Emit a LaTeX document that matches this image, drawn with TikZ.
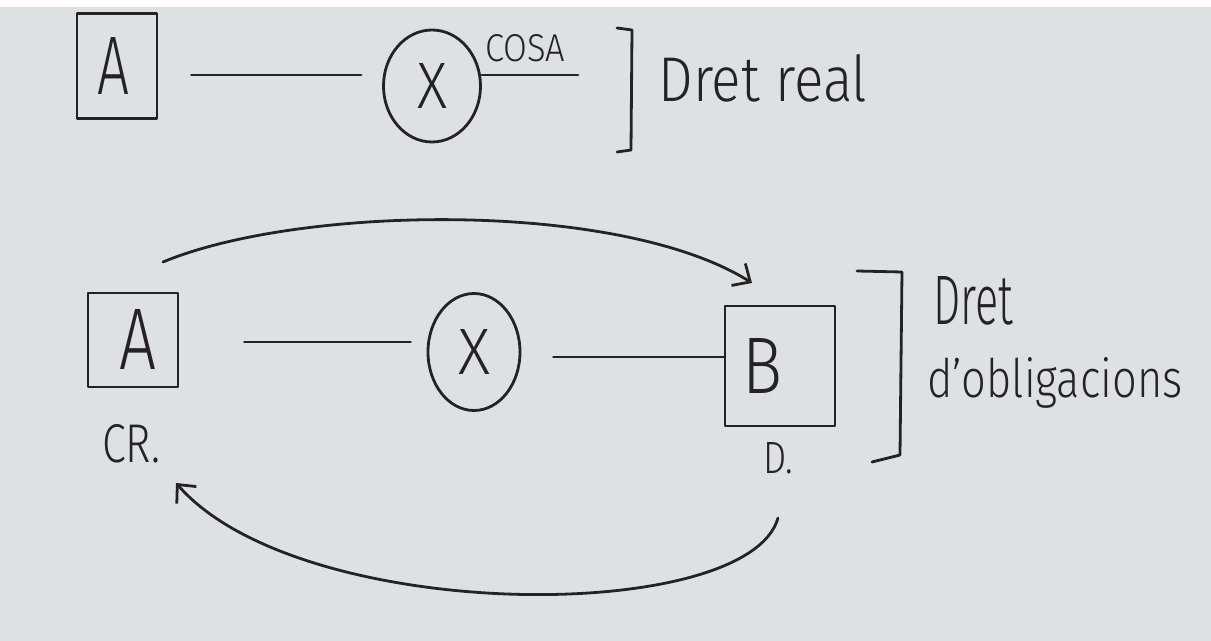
\documentclass[tikz,border=0pt]{standalone}
\usepackage{fontspec}
\usepackage{graphicx}
\setmainfont{Fira Sans}[UprightFont=* Light]
\usetikzlibrary{shapes.geometric,arrows.meta}
\definecolor{paper}{RGB}{221,225,227}
\definecolor{ink}{RGB}{38,34,36}
\newcommand{\fitbox}[3]{\resizebox{#1}{#2}{\fontsize{20}{20}\selectfont #3}}
\tikzset{
  pen/.style={draw=ink, line width=1.4pt, line cap=round, line join=round},
  boxnode/.style={pen, rectangle, inner sep=0pt, text=ink},
  ovalnode/.style={pen, ellipse, inner sep=0pt, text=ink},
  label/.style={inner sep=0pt, text=ink},
  arr/.style={pen, -{Straight Barb[length=7pt,width=13pt,line width=1.4pt]}},
}
\begin{document}
\begin{tikzpicture}[x=0.5pt,y=-0.5pt]
\fill[paper] (0,0) rectangle (1211,641);
\fill[white] (0,0) rectangle (1211,7);
\useasboundingbox (0,0) rectangle (1211,641);

% top row
\node[boxnode, minimum width=40pt, minimum height=52.5pt] (tA) at (117,66) {\fitbox{16pt}{28.5pt}{A}\hspace*{3pt}};
\node[ovalnode, minimum width=48.5pt, minimum height=56pt] (tX) at (432,86) {\fitbox{15pt}{22.5pt}{X}};
\coordinate (cosaend) at (578,75);
\draw[pen, shorten <=16.5pt, shorten >=10.5pt] (tA.east |- 0,75) -- (tX.west |- 0,75);
\draw[pen] (tX.east |- cosaend) -- (cosaend);
\node[label] (cosa) at (525,48) {\fitbox{40pt}{13.5pt}{COSA}};
\draw[pen] (617,28) -- (632,30) -- (631,150) -- (617,152);
\node[label, anchor=base west] (dretreal) at (658,102) {\fitbox{104.5pt}{23.5pt}{Dret real}};

% bottom row
\node[boxnode, minimum width=45pt, minimum height=47pt] (bA) at (133,340) {\hspace*{5pt}\fitbox{18.5pt}{30pt}{A}};
\node[label] (cr) at (131,444) {\fitbox{29pt}{19pt}{CR.}};
\node[ovalnode, minimum width=46pt, minimum height=58.5pt] (bX) at (474,352) {\fitbox{16pt}{22.5pt}{X}};
\node[boxnode, minimum width=55pt, minimum height=60pt] (bB) at (780,366) {\fitbox{20pt}{27.5pt}{B}\hspace*{18pt}};
\node[label] (dd) at (778,458) {\fitbox{15pt}{15.5pt}{D.}};
\draw[pen, shorten <=32.5pt, shorten >=8pt] (bA.east |- 0,342) -- (bX.west |- 0,342);
\draw[pen, shorten <=16pt] (bX.east |- 0,357) -- (bB.west |- 0,357);
\draw[pen] (857,271) -- (902,272) -- (900,455) -- (872,462);
\node[label, anchor=base west] (dret) at (933,325) {\fitbox{40pt}{24pt}{Dret}};
\node[label, anchor=base west] (dobl) at (927,398) {\fitbox{127.5pt}{20pt}{d'obligacions}};

% arcs
\coordinate (a1s) at (163,262);
\coordinate (a1e) at (752,283);
\coordinate (a2s) at (778,518);
\coordinate (a2e) at (176,483);
\draw[arr] (a1s) .. controls (300,205) and (620,200) .. (a1e);
\draw[arr] (a2s) .. controls (748,625) and (300,625) .. (a2e);
\end{tikzpicture}
\end{document}
